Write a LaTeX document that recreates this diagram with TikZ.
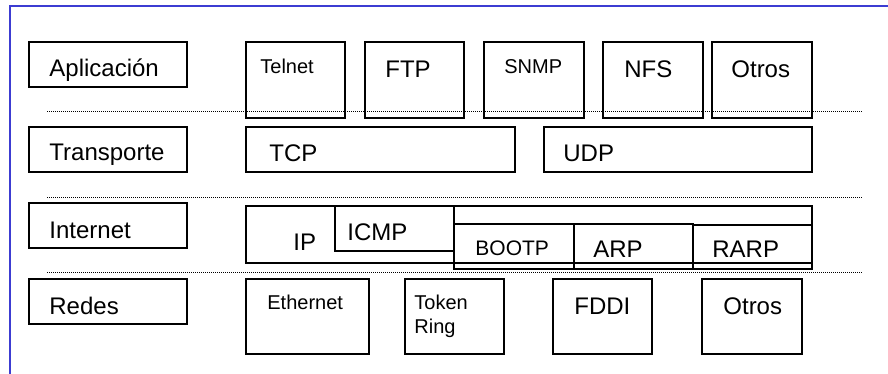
\documentclass[tikz,border=0pt]{standalone}
\usepackage{fontspec}
\setmainfont{Liberation Sans}
\definecolor{marco}{RGB}{60,60,210}

\begin{document}
\begin{tikzpicture}[x=0.5pt,y=-0.5pt,
  caja/.style={line width=0.6pt},
  punteado/.style={line width=0.5pt,dash pattern=on 0.5pt off 0.5pt},
  txt/.style={anchor=base west,inner sep=0pt,font=\fontsize{12}{14}\selectfont},
  chico/.style={txt,font=\fontsize{10}{12}\selectfont}]
%\draw[step=50,gray,very thin] (0,0) grid (888,374); %grid lines
\useasboundingbox (0,0) rectangle (888,374);

\draw[marco,line width=0.85pt] (10,374) -- (10,6) -- (888,6);

% separadores entre capas
\draw[punteado] (47,112) -- (862,112);
\draw[punteado] (47,197) -- (862,197);
\draw[punteado] (47,272) -- (862,272);

% capas
\draw[caja] (29,42) rectangle (187,87);
\node[txt] (aplic) at (49,77) {Aplicación};
\draw[caja] (29,127) rectangle (187,172);
\node[txt] (transp) at (49,161) {Transporte};
\draw[caja] (29,203) rectangle (187,248);
\node[txt] (inter) at (49,238) {Internet};
\draw[caja] (29,279) rectangle (187,324);
\node[txt] (redes) at (49,314) {Redes};

% aplicacion
\draw[caja] (246,42) rectangle (345,118);
\node[chico] (telnet) at (260,74) {Telnet};
\draw[caja] (365,42) rectangle (464,118);
\node[txt] (ftp) at (385,78) {FTP};
\draw[caja] (484,42) rectangle (584,118);
\node[chico] (snmp) at (504,74) {SNMP};
\draw[caja] (603,42) rectangle (703,118);
\node[txt] (nfs) at (624,78) {NFS};
\draw[caja] (712,42) rectangle (812,118);
\node[txt] (otrosA) at (731,78) {Otros};

% transporte
\draw[caja] (246,127) rectangle (515,172);
\node[txt] (tcp) at (269,162) {TCP};
\draw[caja] (544,127) rectangle (812,172);
\node[txt] (udp) at (563,162) {UDP};

% internet
\draw[caja] (246,206) rectangle (812,263);
\node[txt] (ip) at (293,250) {IP};
\draw[caja] (335,206) rectangle (454,251);
\node[txt] (icmp) at (347,240) {ICMP};
\draw[caja] (454,224) rectangle (574,269);
\node[chico,font=\fontsize{10.5}{12}\selectfont] (bootp) at (475,255) {BOOTP};
\draw[caja] (574,224) rectangle (693,269);
\node[txt] (arp) at (593,257) {ARP};
\draw[caja] (693,225) rectangle (812,269);
\node[txt] (rarp) at (712,257) {RARP};

% redes
\draw[caja] (246,279) rectangle (369,354);
\node[chico] (ether) at (267,309) {Ethernet};
\draw[caja] (405,279) rectangle (504,354);
\node[chico,align=left] (token) at (414,333) {Token\\Ring};
\draw[caja] (553,279) rectangle (652,354);
\node[txt] (fddi) at (574,314) {FDDI};
\draw[caja] (702,279) rectangle (802,354);
\node[txt] (otrosR) at (723,314) {Otros};
\end{tikzpicture}
\end{document}
